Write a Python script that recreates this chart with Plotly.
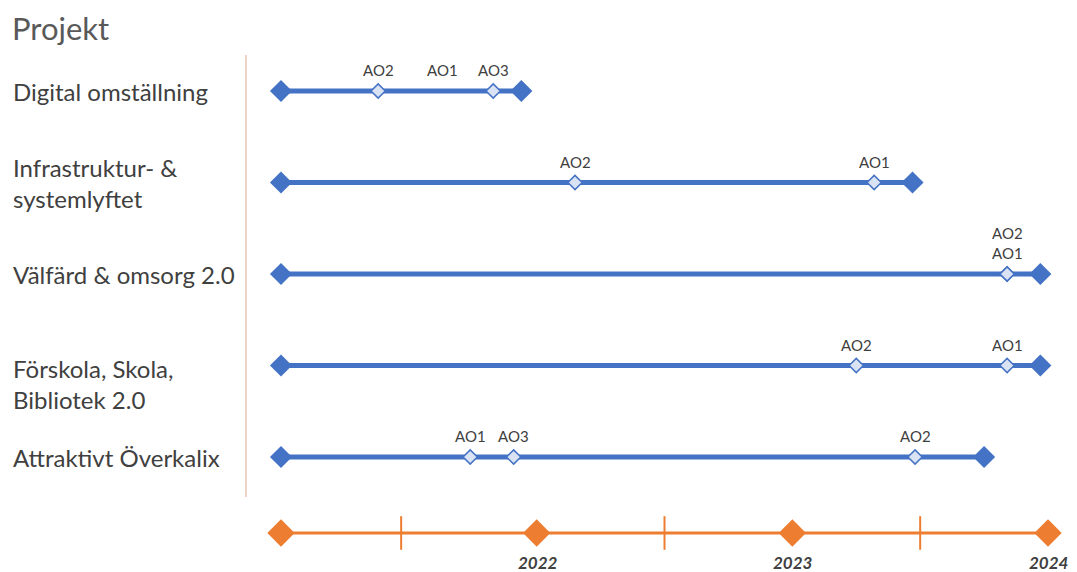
import plotly.graph_objects as go

# ---------------- data ----------------
projects = ["Digital omställning", "Infrastruktur- &<br>systemlyftet", "Välfärd & omsorg 2.0",
            "Förskola, Skola,<br>Bibliotek 2.0", "Attraktivt Överkalix"]
starts = [2021.0, 2021.0, 2021.0, 2021.0, 2021.0]
ends = [2021.94, 2023.47, 2023.97, 2023.97, 2023.75]
milestone_names = [["AO2", "AO3"], ["AO2", "AO1"], ["AO2", "AO1"], ["AO2", "AO1"], ["AO1", "AO3", "AO2"]]
milestone_dates = [[2021.38, 2021.83], [2022.15, 2023.32], [2023.84, 2023.84], [2023.25, 2023.84],
                   [2021.74, 2021.91, 2023.48]]
# milestone labels without a marker
label_only_names = [["AO1"], [], [], [], []]
label_only_dates = [[2021.63], [], [], [], []]

years = [2021, 2022, 2023, 2024]
year_labels = ["", "2022", "2023", "2024"]
half_years = [2021.47, 2022.5, 2023.5]

# ---------------- style ----------------
W, H = 1077, 572
BLUE = "#4472c4"
ORANGE = "#ed7d31"
TXT = "#404040"
FONT = "Lato"

px_per_year = 255.67
x0 = 2021 - 281 / px_per_year
x1 = x0 + W / px_per_year
row_px0, row_step = 91, 91.5
def ypix(p):
    return (p - row_px0) / row_step
y_top, y_bot = ypix(0), ypix(H)
axis_row = ypix(533)

fig = go.Figure()
annotations = []

for i, name in enumerate(projects):
    fig.add_trace(go.Scatter(x=[starts[i], ends[i]], y=[i, i], mode="lines+markers",
                             line=dict(color=BLUE, width=5),
                             marker=dict(symbol="diamond", size=17, color=BLUE),
                             hoverinfo="skip", showlegend=False))
    fig.add_trace(go.Scatter(x=milestone_dates[i], y=[i] * len(milestone_dates[i]), mode="markers",
                             marker=dict(symbol="diamond", size=11, color="#dae3f3",
                                         line=dict(color=BLUE, width=1.5)),
                             hoverinfo="skip", showlegend=False))
    # group milestone labels at identical dates
    groups = {}
    for n, d in list(zip(milestone_names[i], milestone_dates[i])) + list(zip(label_only_names[i], label_only_dates[i])):
        groups.setdefault(d, []).append(n)
    for d, ns in groups.items():
        annotations.append(dict(x=d, y=i, xref="x", yref="y", text="<br>".join(ns),
                                showarrow=False, yanchor="bottom", yshift=10,
                                font=dict(family=FONT, size=15, color=TXT)))
    shift = -18 if i == 3 else 0
    annotations.append(dict(x=11 / W, y=i, xref="paper", yref="y", text=name, showarrow=False,
                            xanchor="left", align="left", yshift=shift,
                            font=dict(family=FONT, size=24, color=TXT)))

# orange time axis
fig.add_trace(go.Scatter(x=[years[0], years[-1]], y=[axis_row, axis_row], mode="lines",
                         line=dict(color=ORANGE, width=3), hoverinfo="skip", showlegend=False))
fig.add_trace(go.Scatter(x=half_years, y=[axis_row] * len(half_years), mode="markers",
                         marker=dict(symbol="line-ns", size=24, line=dict(color=ORANGE, width=2)),
                         hoverinfo="skip", showlegend=False))
fig.add_trace(go.Scatter(x=years, y=[axis_row] * len(years), mode="markers",
                         marker=dict(symbol="diamond", size=21, color=ORANGE),
                         hoverinfo="skip", showlegend=False))
for yv, lab in zip(years, year_labels):
    if lab:
        annotations.append(dict(x=yv, y=axis_row, xref="x", yref="y", text="<b><i>" + lab + "</i></b>",
                                showarrow=False, yanchor="top", yshift=-17, xshift=1,
                                font=dict(family=FONT, size=17, color=TXT)))

annotations.append(dict(x=10 / W, y=ypix(28), xref="paper", yref="y", text="Projekt", showarrow=False,
                        xanchor="left", font=dict(family=FONT, size=31, color="#595959")))

fig.add_shape(type="line", xref="paper", yref="y", x0=246 / W, x1=246 / W, y0=ypix(55), y1=ypix(497),
              line=dict(color="#e6c4b2", width=1.5))

fig.update_layout(width=W, height=H, margin=dict(l=0, r=0, t=0, b=0),
                  paper_bgcolor="white", plot_bgcolor="white", annotations=annotations,
                  xaxis=dict(range=[x0, x1], visible=False, fixedrange=True),
                  yaxis=dict(range=[y_bot, y_top], visible=False, fixedrange=True))

fig.write_html("out.html")
